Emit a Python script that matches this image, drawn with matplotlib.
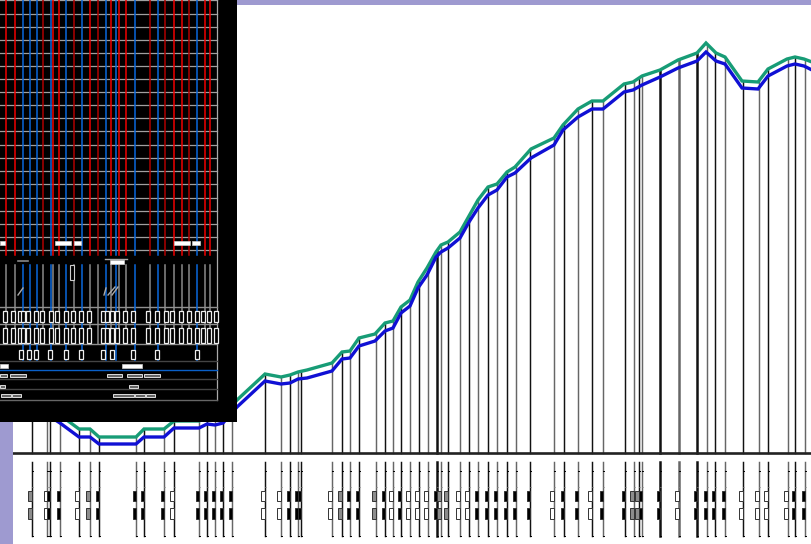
import matplotlib
matplotlib.use('Agg')
import matplotlib.pyplot as plt
from matplotlib.patches import Rectangle

# event positions along the sequence and the glyph kind of each one
# b = narrow black box, o = open box, g = grey box
event_x = [32, 47.5, 49.7, 60, 79, 90, 99, 136, 144, 164, 174, 199, 207, 215, 223, 232, 265,
           281, 290, 298, 301, 332, 342, 350, 359, 376, 385, 393, 401, 410, 419, 428, 437, 441, 448,
           460, 469, 478, 488, 497, 507, 516, 530, 554, 564, 578, 592, 603, 625, 634, 639, 642,
           660, 679, 697, 707, 715, 725, 743, 759, 768, 788, 795, 805]
event_kind = list('gobbogbbbbobbbbbo' 'obbbogbbgbobooobggoo' 'bbbbbbobbobbggbbo' 'bbbboooobbbg')
thick_x = [299, 437, 660, 679, 697]

curve_x = [32, 60, 79, 90, 99, 136, 144, 164, 174, 199, 207, 215, 223, 237, 265, 281, 290, 298, 307,
           332, 342, 350, 359, 375, 385, 393, 401, 410, 418, 427, 436, 441, 448, 460, 469, 478, 488,
           497, 507, 515, 531, 554, 563, 578, 592, 603, 624, 633, 642, 660, 678, 697, 706, 716, 725,
           742, 758, 768, 787, 795, 804, 812]
blue_y = [405, 423, 437, 437, 444, 444, 437, 437, 428, 428, 424, 425, 423, 407, 381, 384, 383, 379, 378,
          371, 359, 358, 346, 341, 331, 328, 313, 306, 288, 275, 257, 252, 248, 238, 222, 208, 195,
          190, 177, 173, 158, 145, 130, 117, 109, 109, 92, 90, 85, 77, 68, 61, 52, 61, 64,
          88, 89, 76, 66, 64, 66, 70]
green_y = [398, 415, 429, 429, 437, 437, 429, 429, 421, 421, 417, 418, 416, 400, 374, 377, 375, 372, 370,
           363, 352, 351, 338, 334, 323, 321, 307, 300, 282, 268, 252, 245, 242, 232, 216, 200, 187,
           184, 172, 167, 149, 138, 125, 109, 101, 101, 84, 82, 76, 70, 60, 53, 43, 53, 57,
           81, 82, 69, 59, 57, 59, 62]

# inset panel
red_x = [6, 15, 52.7, 58.7, 90, 110.7, 119, 126, 173.7, 182, 204.7, 210]
darkred_x = [43, 74, 98, 150, 165, 188.7]
blue_x = [23, 30, 37, 50.7, 66, 82, 106, 116, 134.7, 158, 197]
grid_y = [0, 13.5, 27, 40, 53, 66, 79, 92, 105, 118, 131, 145, 158, 171, 184, 198, 211, 224, 237, 250]
row_y = [307, 324, 344]
dark_row_y = [361, 379, 389]
row1_x = [5, 13, 20, 23, 28, 36, 42, 51, 57, 66, 73, 81, 89, 103, 107, 112, 117, 125, 133,
          148, 157, 166, 172, 181, 189, 197, 203, 209, 216]
row3_x = [21, 29, 36, 50, 66, 81, 103, 112, 133, 157, 197]
white_bars = [(0, 5, 243), (55, 71, 243), (74, 81, 243), (174, 190, 243), (192, 200, 243),
              (0, 8, 366), (122, 142, 366), (110, 124, 262)]
grey_bars = [(0, 7, 375), (10, 26, 375), (107, 122, 375), (127, 142, 375), (144, 160, 375),
             (0, 5, 386), (129, 138, 386), (1, 11, 395), (12, 21, 395), (113, 134, 395),
             (135, 145, 395), (146, 155, 395)]
slant_lines = [(18, 295, 23, 288), (104, 295, 106, 288), (108, 295, 115, 287), (112, 295, 118, 287)]

PURPLE = '#9e9ad0'

fig = plt.figure(figsize=(8.12, 5.44), dpi=100)
ax = fig.add_axes([0, 0, 1, 1])
ax.set_xlim(0, 812)
ax.set_ylim(544, 0)
ax.axis('off')

# stems, white fill above the green curve trims them to the curve
for i, x in enumerate(event_x):
    c = '#111111' if i % 2 == 0 else '#666666'
    w = 1.8 if x in thick_x else 1.05
    ax.plot([x, x], [453, 5], color=c, lw=w, zorder=1.5)
    ax.plot([x, x], [462, 536], color=c, lw=w, zorder=1.5)
    ax.plot([x, x + 1.5], [471, 471], color='black', lw=0.7, zorder=1.5)
    ax.plot([x, x + 1.5], [536, 536], color='black', lw=0.7, zorder=1.5)
    ax.plot([x, x + 1.5], [487, 487], color='#888888', lw=0.5, zorder=1.5)
    kind = event_kind[i]
    fc = {'b': 'black', 'o': 'white', 'g': '#8c8c8c'}[kind]
    wid = 2.5 if kind == 'b' else 3.5
    for y0, h in [(491, 10), (508, 11)]:
        ax.add_patch(Rectangle((x - wid, y0), wid, h, fc=fc, ec='#333333', lw=0.7, zorder=1.6))
ax.fill_between(curve_x, 0, green_y, color='white', lw=0, zorder=2)
ax.plot([13, 812], [453, 453], color='#222222', lw=1.9, zorder=2.5)
ax.plot(curve_x, green_y, color='#179c76', lw=2.4, zorder=3, solid_joinstyle='miter')
ax.plot(curve_x, blue_y, color='#1010d4', lw=2.4, zorder=3, solid_joinstyle='miter')

# purple page edges
ax.add_patch(Rectangle((237, 0), 575, 5, color=PURPLE, lw=0, zorder=3.5))
ax.add_patch(Rectangle((0, 422), 13, 122, color=PURPLE, lw=0, zorder=3.5))

# black inset picture
ax.add_patch(Rectangle((0, 0), 237, 422, color='black', lw=0, zorder=4))
for y in grid_y:
    ax.plot([0, 217], [y, y], color='#a0a0a0', lw=0.9, zorder=4.1)
ax.plot([217, 217], [0, 400], color='#aaaaaa', lw=0.9, zorder=4.1)
for x in red_x:
    ax.plot([x, x], [0, 255], color='#f00000', lw=1.1, zorder=4.2)
for x in darkred_x:
    ax.plot([x, x], [0, 255], color='#b00000', lw=1.1, zorder=4.2)
for x in blue_x:
    ax.plot([x, x], [0, 255], color='#0a68dc', lw=1.1, zorder=4.3)
    ax.plot([x, x], [265, 360], color='#0a68dc', lw=1.1, zorder=4.5)
for x in red_x + darkred_x:
    ax.plot([x, x], [265, 344], color='#8a8a8a', lw=1.1, zorder=4.4)
for y in row_y:
    ax.plot([0, 217], [y, y], color='#909090', lw=1, zorder=4.4)
for y in dark_row_y:
    ax.plot([0, 217], [y, y], color='#444444', lw=1, zorder=4.4)
ax.plot([0, 217], [400, 400], color='#666666', lw=1, zorder=4.4)
ax.plot([0, 217], [370, 370], color='#0a60c8', lw=1, zorder=4.4)
for x0, y0, x1, y1 in slant_lines:
    ax.plot([x0, x1], [y0, y1], color='#aaaaaa', lw=1, zorder=4.6)

for x in row1_x:
    ax.add_patch(Rectangle((x - 2, 311), 4, 11, fc='black', ec='#eeeeee', lw=0.9, zorder=4.6))
    ax.add_patch(Rectangle((x - 2, 328), 4, 15, fc='black', ec='#eeeeee', lw=0.9, zorder=4.6))
for x in row3_x:
    ax.add_patch(Rectangle((x - 2, 350), 4, 9, fc='black', ec='#eeeeee', lw=0.9, zorder=4.6))
for x0, x1, y in white_bars:
    ax.add_patch(Rectangle((x0, y - 2), x1 - x0, 4, fc='white', ec='#cccccc', lw=0.5, zorder=4.7))
for x0, x1, y in grey_bars:
    ax.add_patch(Rectangle((x0, y - 1.5), x1 - x0, 3, fc='#666666', ec='#dddddd', lw=0.7, zorder=4.7))
ax.add_patch(Rectangle((70, 265), 4, 15, fc='black', ec='#cccccc', lw=0.8, zorder=4.7))
ax.plot([18, 28], [261, 261], color='#888888', lw=1.2, zorder=4.7)
ax.plot([105, 127], [258.5, 258.5], color='#aaaaaa', lw=1, zorder=4.7)

fig.savefig('out.png', dpi=100)
